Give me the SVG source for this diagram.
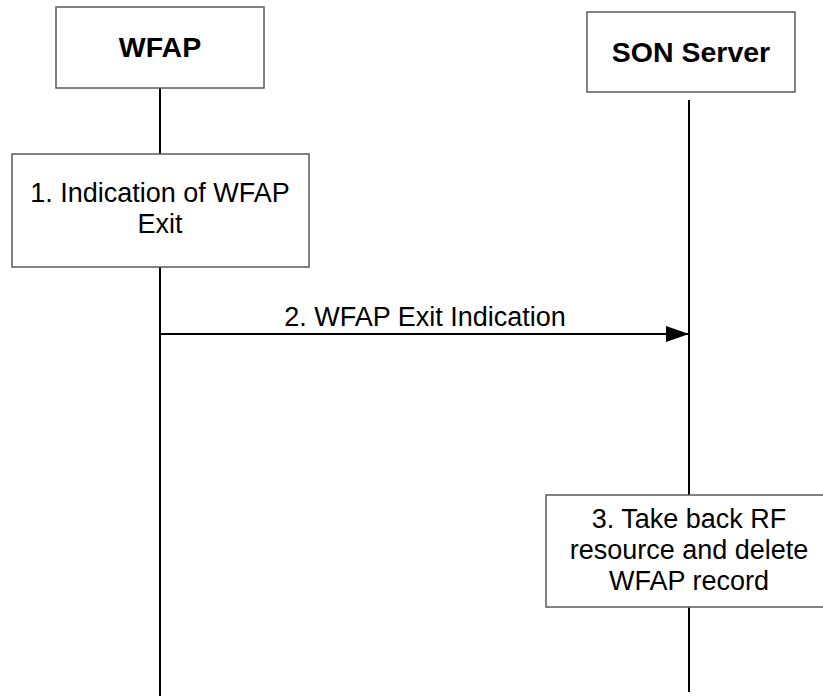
<svg xmlns="http://www.w3.org/2000/svg" width="823" height="696" viewBox="0 0 823 696">
<style>
.box{fill:#fff;stroke:#5a5a5a;stroke-width:1.5}
.life{stroke:#000;stroke-width:2;fill:none}
.t{font-family:"Liberation Sans",Arial,sans-serif;font-size:27px;fill:#000;text-anchor:middle}
.b{font-weight:bold;font-size:28.5px}
</style>
<defs>
<marker id="ah" markerWidth="24" markerHeight="16" refX="23" refY="8" orient="auto" markerUnits="userSpaceOnUse">
<path d="M0,0 L23,8 L0,16 Z" fill="#000"/>
</marker>
</defs>
<g id="connectors">
<line class="life" x1="160" y1="88" x2="160" y2="154"/>
<line class="life" x1="160" y1="267" x2="160" y2="696"/>
<line class="life" x1="689" y1="100" x2="689" y2="495"/>
<line class="life" x1="689" y1="607" x2="689" y2="692"/>
<line class="life" x1="160" y1="334" x2="689" y2="334" marker-end="url(#ah)"/>
<text class="t" x="425" y="326">2. WFAP Exit Indication</text>
</g>
<g id="wfap">
<rect class="box" x="56" y="7" width="208" height="81"/>
<text class="t b" x="160" y="57">WFAP</text>
</g>
<g id="son">
<rect class="box" x="587" y="12" width="208" height="80"/>
<text class="t b" x="691" y="62">SON Server</text>
</g>
<g id="step1">
<rect class="box" x="12" y="154" width="297" height="113"/>
<text class="t" x="160" y="202">1. Indication of WFAP</text>
<text class="t" x="160" y="233">Exit</text>
</g>
<g id="step3">
<rect class="box" x="546" y="495" width="286" height="112"/>
<text class="t" x="689" y="528">3. Take back RF</text>
<text class="t" x="689" y="559">resource and delete</text>
<text class="t" x="689" y="590">WFAP record</text>
</g>
</svg>
